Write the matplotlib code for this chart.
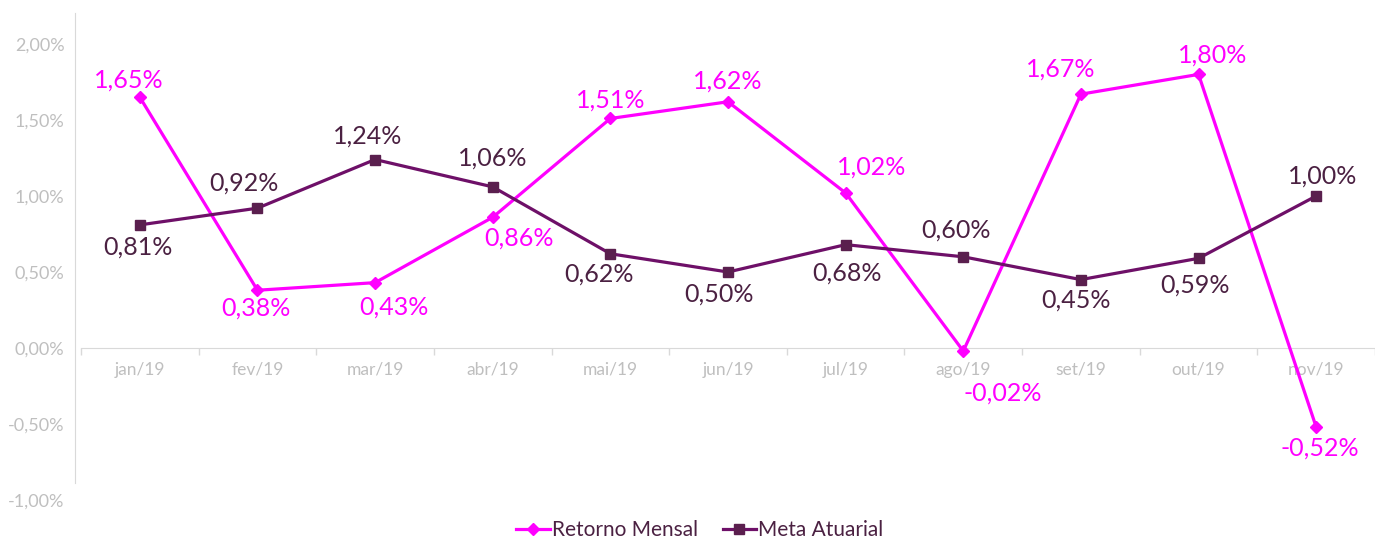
import matplotlib
matplotlib.use("Agg")
import matplotlib.pyplot as plt
from matplotlib.ticker import FixedLocator

plt.rcParams['font.family'] = ['Lato', 'DejaVu Sans']

# dados mensais (%)
meses = ['jan/19', 'fev/19', 'mar/19', 'abr/19', 'mai/19', 'jun/19',
         'jul/19', 'ago/19', 'set/19', 'out/19', 'nov/19']
retorno = [1.65, 0.38, 0.43, 0.86, 1.51, 1.62, 1.02, -0.02, 1.67, 1.80, -0.52]
meta = [0.81, 0.92, 1.24, 1.06, 0.62, 0.50, 0.68, 0.60, 0.45, 0.59, 1.00]
y_ticks = [-1.0, -0.5, 0.0, 0.5, 1.0, 1.5, 2.0]

# deslocamento dos rotulos em pixels (dx, dy), como no grafico original
desl_retorno = [(-11, 17), (-2, -18), (19, -24), (26, -21), (0, 18), (0, 21),
                (26, 26), (39, -42), (-20, 25), (14, 19), (4, -21)]
desl_meta = [(-2, -22), (-14, 25), (-7, 23), (0, 29), (-11, -20), (-9, -22),
             (1, -28), (-7, 27), (-5, -20), (-4, -27), (6, 20)]

rosa = '#FF00FF'
roxo = '#6E1068'
roxo_escuro = '#5A1F4E'
texto_roxo = '#4B2142'
cinza = '#BFBFBF'

fig = plt.figure(figsize=(13.75, 5.39), dpi=100)
ax = fig.add_axes([81 / 1375, 39 / 539, 1 - 81 / 1375, (500 - 13) / 539])

x = list(range(len(meses)))
ax.plot(x, retorno, color=rosa, lw=2.3, marker='D', ms=6.5,
        mfc=rosa, mec=rosa, label='Retorno Mensal', zorder=3)
ax.plot(x, meta, color=roxo, lw=2.3, marker='s', ms=7,
        mfc=roxo_escuro, mec=roxo_escuro, label='Meta Atuarial', zorder=4)

def fmt(v):
    return ('%.2f%%' % v).replace('.', ',')

for i, v in enumerate(retorno):
    ax.annotate(fmt(v), (i, v), xytext=desl_retorno[i],
                textcoords='offset pixels', ha='center', va='center',
                fontsize=18, color=rosa, zorder=5)
for i, v in enumerate(meta):
    ax.annotate(fmt(v), (i, v), xytext=desl_meta[i],
                textcoords='offset pixels', ha='center', va='center',
                fontsize=18, color=texto_roxo, zorder=5)

ax.set_xlim(-0.5, len(meses) - 0.5)
ax.set_ylim(-1.0, 2.204)

ax.set_yticks(y_ticks)
ax.set_yticklabels([fmt(v) for v in y_ticks])
ax.tick_params(axis='y', length=0, pad=8, labelsize=13, labelcolor=cinza)

ax.set_xticks(x)
ax.set_xticklabels(meses)
ax.xaxis.set_minor_locator(FixedLocator([i - 0.5 for i in range(len(meses) + 1)]))
ax.tick_params(axis='x', which='major', length=0, pad=10, labelsize=12.5, labelcolor=cinza)
ax.tick_params(axis='x', which='minor', length=5, width=1, color='#D9D9D9')

for s in ['top', 'right']:
    ax.spines[s].set_visible(False)
ax.spines['bottom'].set_position(('data', 0))
ax.spines['bottom'].set_color('#D9D9D9')
ax.spines['left'].set_position(('outward', 4))
ax.spines['left'].set_bounds(-0.888, 2.204)
ax.spines['left'].set_color('#D9D9D9')

leg = fig.legend(loc='center', bbox_to_anchor=(0.509, 0.016), ncol=2, frameon=False,
                 fontsize=15, handlelength=1.6, handletextpad=0.1, columnspacing=1.2)
for t in leg.get_texts():
    t.set_color(texto_roxo)

fig.savefig('out.png', dpi=100)
